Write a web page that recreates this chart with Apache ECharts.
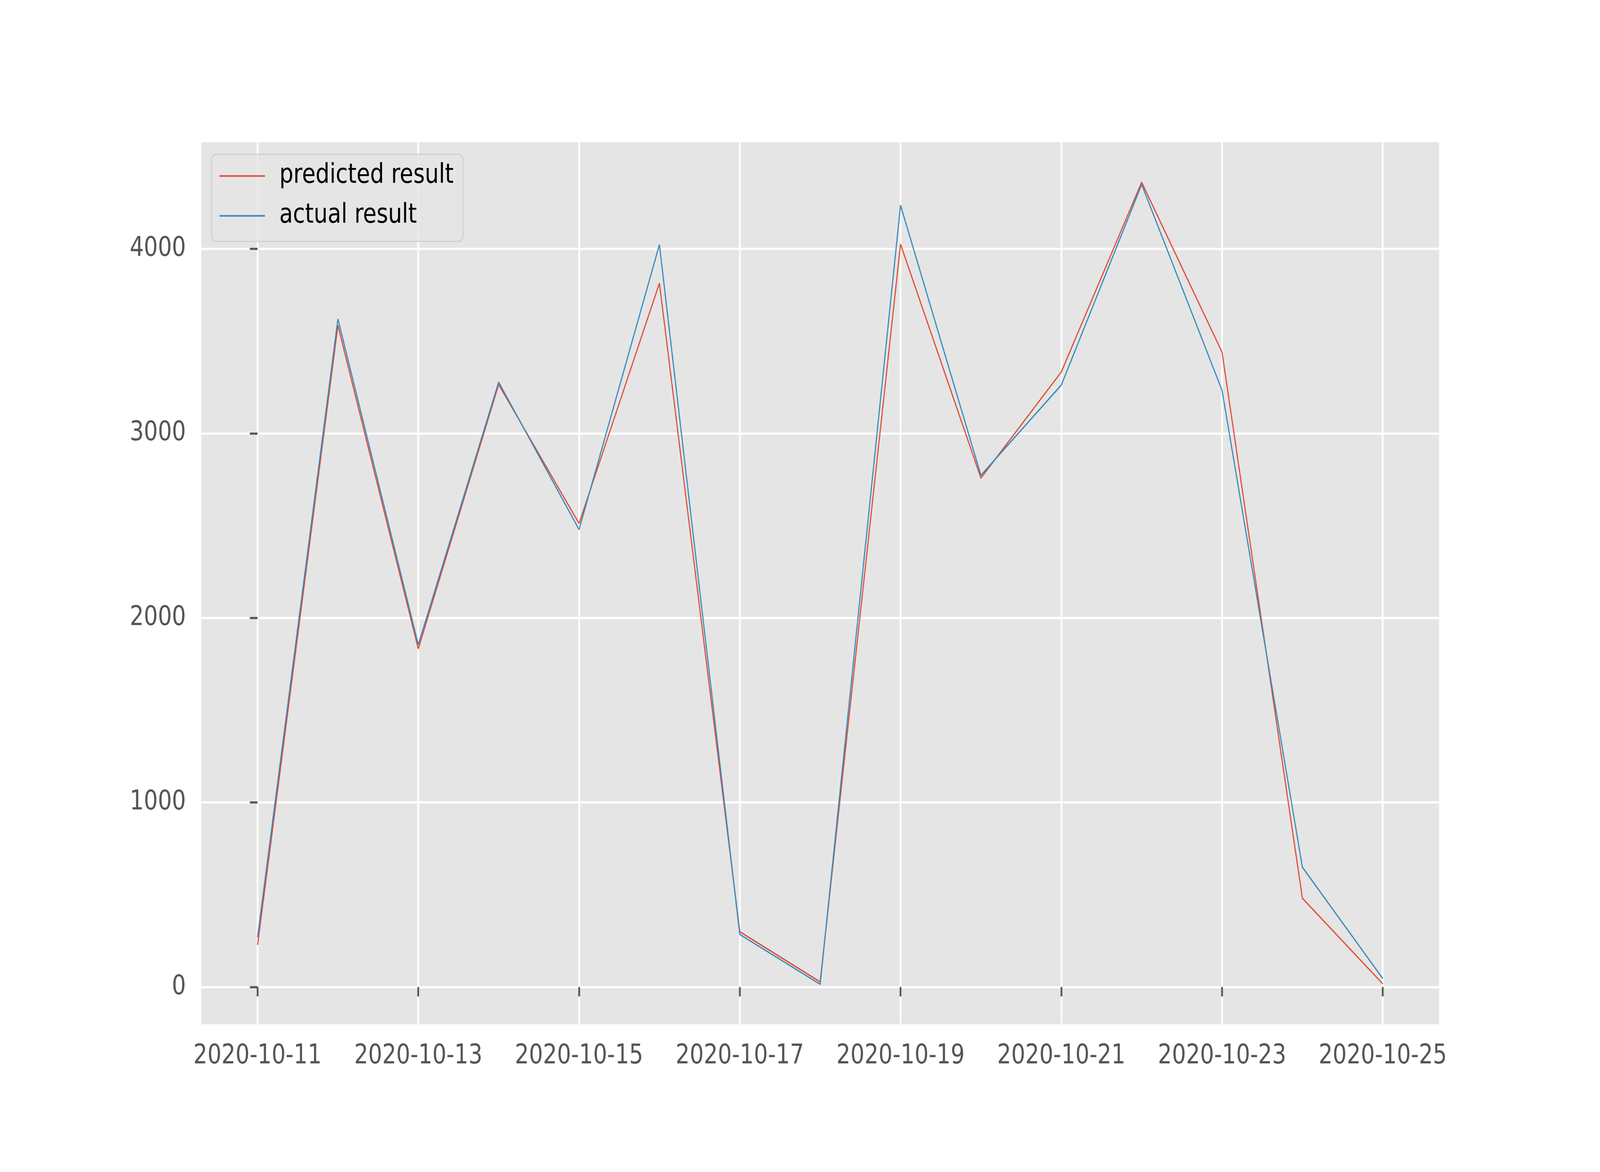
<!DOCTYPE html>
<html>
<head>
<meta charset="utf-8">
<script src="https://cdn.jsdelivr.net/npm/echarts@6/dist/echarts.min.js"></script>
<style>
  html, body { margin: 0; padding: 0; background: #fff; overflow: hidden; }
  #chart { width: 5000px; height: 3000px; transform-origin: 0 0; }
</style>
</head>
<body>
<div id="chart"></div>
<script>
// dates on the x axis, one value per day
const dates = ['2020-10-11', '2020-10-12', '2020-10-13', '2020-10-14', '2020-10-15',
  '2020-10-16', '2020-10-17', '2020-10-18', '2020-10-19', '2020-10-20',
  '2020-10-21', '2020-10-22', '2020-10-23', '2020-10-24', '2020-10-25']
const predicted = [228, 3585, 1833, 3265, 2512, 3814, 300, 28, 4025, 2758, 3333, 4361, 3440, 481, 17]
const actual = [270, 3620, 1855, 3278, 2479, 4023, 285, 15, 4236, 2773, 3262, 4349, 3234, 649, 46]
const xTicks = [0, 2, 4, 6, 8, 10, 12, 14]
const yTicks = [0, 1000, 2000, 3000, 4000]

const font = 'DejaVu Sans'
const tickColor = '#555555'

// the window can be narrower than 5000px, so the 5000x3000 chart is fitted into it
const el = document.getElementById('chart')
el.style.transform = 'scale(' + (window.innerWidth / 5000) + ',' + (window.innerHeight / 3000) + ')'

const chart = echarts.init(el, null, { renderer: 'canvas' })

const toPairs = arr => arr.map((v, i) => [i, v])

const option = {
  animation: false,
  backgroundColor: '#ffffff',
  grid: {
    left: 629, right: 503, top: 364, bottom: 378,
    show: true, backgroundColor: '#E5E5E5', borderWidth: 0
  },
  legend: {
    left: 661, top: 395,
    orient: 'vertical',
    icon: 'rect',
    itemWidth: 142, itemHeight: 4, itemGap: 33,
    padding: [21, 29, 31, 25],
    backgroundColor: 'rgba(229,229,229,0.8)',
    borderColor: '#CFCFCF', borderWidth: 3, borderRadius: 14,
    textStyle: { fontFamily: font, fontSize: 69, color: '#000', lineHeight: 69, padding: [0, 0, 0, 40] },
    data: ['predicted result', 'actual result']
  },
  xAxis: {
    type: 'value',
    min: -0.7, max: 14.7,
    axisLine: { show: false },
    axisTick: { show: true, customValues: xTicks, length: 24, lineStyle: { color: tickColor, width: 5.5 } },
    axisLabel: {
      customValues: xTicks,
      margin: 48,
      fontFamily: font, fontSize: 69, color: tickColor,
      formatter: v => dates[Math.round(v)] || ''
    },
    splitLine: { show: true, lineStyle: { color: '#ffffff', width: 5.5 } }
  },
  yAxis: {
    type: 'value',
    min: -202, max: 4578,
    axisLine: { show: false },
    axisTick: { show: true, customValues: yTicks, length: 24, lineStyle: { color: tickColor, width: 5.5 } },
    axisLabel: {
      customValues: yTicks,
      margin: 48,
      fontFamily: font, fontSize: 69, color: tickColor,
      formatter: v => String(v)
    },
    splitLine: { show: true, lineStyle: { color: '#ffffff', width: 5.5 } }
  },
  series: [
    {
      name: 'predicted result', type: 'line',
      data: toPairs(predicted),
      showSymbol: false, symbol: 'none',
      lineStyle: { color: '#E24A33', width: 3.5 },
      itemStyle: { color: '#E24A33' }
    },
    {
      name: 'actual result', type: 'line',
      data: toPairs(actual),
      showSymbol: false, symbol: 'none',
      lineStyle: { color: '#348ABD', width: 3.5 },
      itemStyle: { color: '#348ABD' }
    }
  ]
}

chart.setOption(option)
</script>
</body>
</html>
